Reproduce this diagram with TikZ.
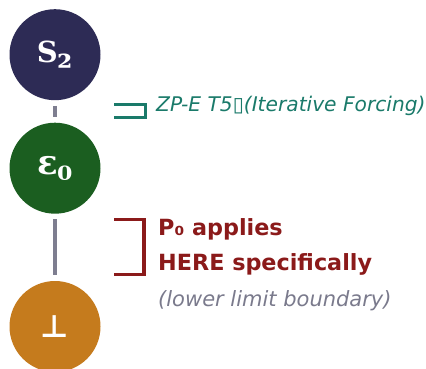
\documentclass[tikz,border=0pt]{standalone}
\usepackage{fontspec}
\setmainfont{DejaVu Sans}
\newfontfamily\dvserif{DejaVu Serif}
\definecolor{navyc}{HTML}{2D2B55}
\definecolor{greenc}{HTML}{1B5E20}
\definecolor{orangec}{HTML}{C57B1D}
\definecolor{tealc}{HTML}{1A7A6A}
\definecolor{redc}{HTML}{8B1A1A}
\definecolor{grayc}{HTML}{7A7A8C}
\definecolor{linec}{HTML}{7E7E90}
\begin{document}
\begin{tikzpicture}[x=1pt,y=-1pt,
  circ/.style={circle,minimum size=91pt,inner sep=0pt,text=white},
  conn/.style={draw=linec,line width=4pt,shorten <=5.5pt,shorten >=6pt},
  brk/.style={line width=3.5pt},
  lbl/.style={anchor=base west,inner sep=0pt}]
\useasboundingbox (0,0) rectangle (426,369);
\node[circ,fill=navyc] (s2) at (55,54.7) {\raisebox{-3pt}{\dvserif\bfseries\fontsize{29}{34}\selectfont S\raisebox{-5.5pt}{\fontsize{35}{38}\selectfont ₂}}};
\node[circ,fill=greenc] (e0) at (55,168.2) {\raisebox{-4pt}{\dvserif\bfseries\fontsize{34}{38}\selectfont ε\raisebox{-5.5pt}{\fontsize{35}{38}\selectfont ₀}}};
\node[circ,fill=orangec] (bot) at (55,326.5) {\raisebox{-2pt}{\bfseries\fontsize{31}{34}\selectfont ⊥}};
\draw[conn] (s2.south) -- (e0.north);
\draw[conn] (e0.south) -- (bot.north);
% teal bracket
\coordinate (t1) at (114,105);
\coordinate (t2) at (145,117.5);
\draw[brk,draw=tealc,line width=3pt] (t1) -| (t2) -- (t2 -| t1);
\node[lbl,text=tealc] (zp) at (156,111.5) {\fontsize{20.2}{24}\selectfont\itshape ZP-E T5▯(Iterative Forcing)};
% red bracket
\coordinate (r1) at (114,219.5);
\coordinate (r2) at (144,274.5);
\draw[brk,draw=redc] (r1) -| (r2) -- (r2 -| r1);
\node[lbl,text=redc] (p0) at (158,235) {\fontsize{22.3}{26}\selectfont\bfseries P₀ applies};
\node[lbl,text=redc] (here) at (158,270.5) {\fontsize{22.3}{26}\selectfont\bfseries HERE specifically};
\node[lbl,text=grayc] (low) at (158,306) {\fontsize{21}{25}\selectfont\itshape (lower limit boundary)};
\end{tikzpicture}
\end{document}
